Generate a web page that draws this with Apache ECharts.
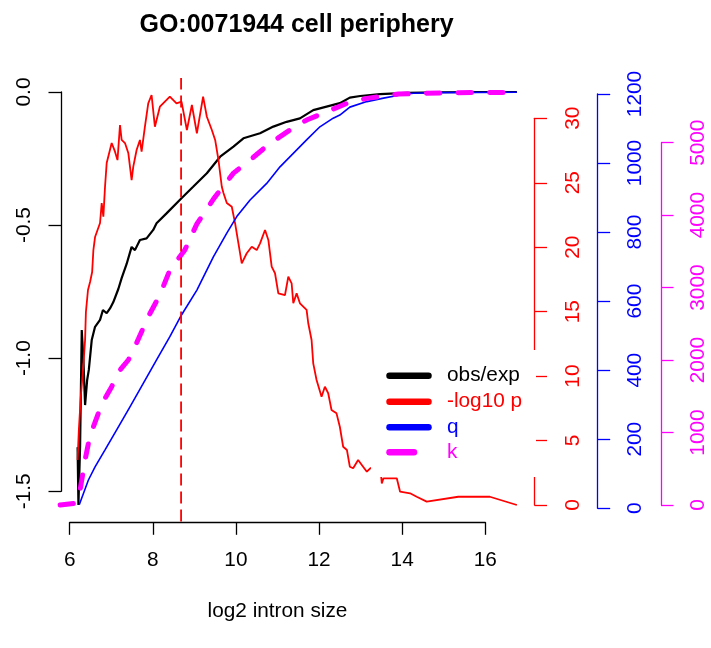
<!DOCTYPE html>
<html><head><meta charset="utf-8">
<script src="https://cdn.jsdelivr.net/npm/echarts@6/dist/echarts.min.js"></script>
<style>html,body{margin:0;padding:0;background:#fff}#c{width:711px;height:648px}</style>
</head><body><div id="c"></div>
<script>
// ---------- data ----------
const TITLE = 'GO:0071944 cell periphery';
const X_NAME = 'log2 intron size';
const X_TICKS = [6, 8, 10, 12, 14, 16];
const OBS_TICKS = [-1.5, -1.0, -0.5, 0.0];
const P_TICKS = [0, 5, 10, 15, 20, 25, 30];
const Q_TICKS = [0, 200, 400, 600, 800, 1000, 1200];
const K_TICKS = [0, 1000, 2000, 3000, 4000, 5000];
const LEGEND_NAMES = ['obs/exp', '-log10 p', 'q', 'k'];
const VLINE_X = 8.68;

const OBS_X = [6.19, 6.21, 6.25, 6.29, 6.33, 6.37, 6.42, 6.46, 6.53, 6.61, 6.73, 6.80, 6.89, 6.97, 7.05, 7.17, 7.25, 7.37, 7.49, 7.57, 7.69, 7.85, 8.01, 8.09, 8.33, 8.69, 8.97, 9.30, 9.62, 9.94, 10.18, 10.58, 10.90, 11.22, 11.54, 11.86, 12.18, 12.50, 12.74, 12.99, 13.47, 14.11, 14.91, 15.87, 16.76];
const OBS_Y = [-1.334, -1.551, -1.332, -0.894, -1.007, -1.176, -1.082, -1.044, -0.932, -0.882, -0.856, -0.819, -0.831, -0.813, -0.789, -0.740, -0.699, -0.646, -0.582, -0.594, -0.556, -0.550, -0.518, -0.493, -0.456, -0.399, -0.356, -0.305, -0.243, -0.205, -0.174, -0.155, -0.130, -0.112, -0.099, -0.068, -0.055, -0.042, -0.021, -0.015, -0.008, -0.003, -0.001, 0, 0];

const P_X = [6.19, 6.22, 6.27, 6.32, 6.37, 6.39, 6.44, 6.49, 6.54, 6.57, 6.61, 6.73, 6.77, 6.81, 6.85, 6.89, 6.95, 7.01, 7.09, 7.15, 7.21, 7.25, 7.33, 7.41, 7.49, 7.53, 7.61, 7.69, 7.73, 7.81, 7.89, 7.97, 8.05, 8.17, 8.29, 8.41, 8.57, 8.69, 8.82, 8.94, 9.06, 9.21, 9.30, 9.42, 9.50, 9.58, 9.66, 9.70, 9.78, 9.90, 9.98, 10.06, 10.14, 10.26, 10.38, 10.50, 10.58, 10.70, 10.78, 10.86, 10.94, 11.02, 11.18, 11.26, 11.34, 11.38, 11.46, 11.54, 11.70, 11.74, 11.82, 11.86, 11.94, 12.06, 12.14, 12.22, 12.30, 12.42, 12.50, 12.58, 12.67, 12.74, 12.82, 12.94, 13.06, 13.15, 13.23, 13.37, 13.48, 13.51, 13.55, 13.87, 13.95, 14.19, 14.35, 14.59, 15.35, 16.11, 16.76];
const P_Y = [3.49, 5.82, 8.53, 10.47, 12.80, 14.97, 16.68, 17.30, 18.08, 19.78, 20.79, 21.88, 23.43, 22.37, 24.69, 26.53, 27.31, 28.08, 27.41, 26.76, 29.48, 28.32, 28.08, 27.31, 25.21, 26.25, 27.54, 28.32, 27.41, 29.35, 31.16, 31.81, 29.35, 30.90, 31.29, 31.68, 31.16, 31.29, 29.09, 31.03, 28.84, 31.68, 30.12, 29.09, 28.32, 26.76, 24.69, 24.20, 23.43, 23.14, 21.85, 20.30, 18.75, 19.53, 20.04, 19.78, 20.30, 21.33, 20.56, 18.49, 17.98, 16.42, 16.29, 17.71, 17.20, 15.65, 16.42, 15.65, 15.13, 14.10, 12.80, 10.99, 9.70, 8.40, 9.18, 8.67, 7.37, 7.11, 6.07, 4.52, 4.27, 2.97, 2.85, 3.49, 2.97, 2.58, 2.85, 2.87, 2.72, 1.68, 2.07, 2.07, 1.03, 0.91, 0.64, 0.26, 0.64, 0.64, 0];

const Q_X = [6.23, 6.33, 6.45, 6.61, 6.85, 7.13, 7.45, 7.77, 8.09, 8.41, 8.69, 9.06, 9.46, 9.78, 10.02, 10.34, 10.74, 11.06, 11.38, 11.70, 12.02, 12.34, 12.50, 12.74, 13.15, 13.55, 13.95, 14.27, 14.91, 16.76];
const Q_Y = [10, 43, 82, 120, 169, 227, 294, 362, 430, 497, 560, 632, 729, 797, 845, 893, 941, 989, 1028, 1067, 1105, 1130, 1139, 1162, 1178, 1188, 1197, 1202, 1204, 1205];

const K_X = [5.77, 6.13, 6.20, 6.25, 6.37, 6.45, 6.57, 6.69, 6.85, 7.01, 7.21, 7.41, 7.57, 7.89, 8.17, 8.41, 8.77, 9.06, 9.47, 9.94, 10.34, 10.82, 11.30, 11.70, 12.18, 12.67, 12.99, 13.15, 13.55, 13.91, 14.43, 15.23, 16.76];
const K_Y = [0, 23, 69, 207, 621, 851, 1080, 1265, 1472, 1633, 1863, 2001, 2185, 2599, 2898, 3243, 3519, 3880, 4232, 4580, 4761, 4991, 5175, 5313, 5427, 5543, 5589, 5612, 5644, 5671, 5681, 5690, 5695];

// ---------- layout ----------
const FONT = '"Liberation Sans", Arial, Helvetica, sans-serif';
const FS = 20.8;
const X0PX = 69.7, XUNIT = 41.56;           // pixel of x=6, pixels per x unit
const xAt = px => 6 + (px - X0PX) / XUNIT;   // pixel -> x value (for grid extents)
const pairs = (xs, ys) => xs.map((x, i) => [x, ys[i]]);

const RED = '#ff0000', BLUE = '#0000ff', MAG = '#ff00ff', BLK = '#000000';

function grid(l, t, r, b) { return { left: l, top: t, width: r - l, height: b - t, containLabel: false, outerBoundsMode: 'none' }; }
const G = [
  grid(61, 92, 535, 491.3),     // 0 obs/exp (left axis)
  grid(69.7, 400, 485.3, 522.3),// 1 x axis
  grid(42, 118.3, 534.5, 505),  // 2 -log10 p
  grid(42, 94, 597.7, 508.3),   // 3 q
  grid(42, 142.7, 661, 505),    // 4 k
  grid(42, 78, 535, 521.5)      // 5 frame (vline)
];
function hiddenX(i) { const g = G[i]; return { type: 'value', gridIndex: i, show: false, min: xAt(g.left), max: xAt(g.left + g.width) }; }
function hiddenY(i, mn, mx) { return { type: 'value', gridIndex: i, show: false, min: mn, max: mx }; }
function visY(i, pos, ticks, color, margin, fmt) {
  return {
    type: 'value', gridIndex: i, position: pos, min: ticks[0], max: ticks[ticks.length - 1],
    interval: ticks[1] - ticks[0],
    axisLine: { show: true, onZero: false, lineStyle: { color: color, width: 1.3 } },
    axisTick: { show: true, inside: false, length: 12.5, lineStyle: { color: color, width: 1.3 }, customValues: ticks },
    axisLabel: { show: true, rotate: 90, margin: margin, color: color, fontSize: FS, fontFamily: FONT,
      showMinLabel: true, showMaxLabel: true, customValues: ticks, formatter: fmt || (v => String(v)) },
    splitLine: { show: false }, splitArea: { show: false }
  };
}

const xAxes = [
  hiddenX(0),
  { type: 'value', gridIndex: 1, position: 'bottom', min: X_TICKS[0], max: X_TICKS[X_TICKS.length - 1], interval: 2,
    axisLine: { show: true, onZero: false, lineStyle: { color: BLK, width: 1.3 } },
    axisTick: { show: true, inside: false, length: 12.5, lineStyle: { color: BLK, width: 1.3 }, customValues: X_TICKS },
    axisLabel: { show: true, margin: 27, color: BLK, fontSize: FS, fontFamily: FONT, showMinLabel: true, showMaxLabel: true, customValues: X_TICKS },
    splitLine: { show: false },
    name: X_NAME, nameLocation: 'middle', nameGap: 78, nameTextStyle: { color: BLK, fontSize: FS, fontFamily: FONT } },
  hiddenX(2), hiddenX(3), hiddenX(4), hiddenX(5)
];
const yAxes = [
  visY(0, 'left', OBS_TICKS, BLK, 26, v => v.toFixed(1)),
  hiddenY(1, 0, 1),
  visY(2, 'right', P_TICKS, RED, 28),
  visY(3, 'right', Q_TICKS, BLUE, 27),
  visY(4, 'right', K_TICKS, MAG, 27),
  hiddenY(5, 0, 1)
];

function lineSeries(name, idx, data, style) {
  return { name: name, type: 'line', xAxisIndex: idx, yAxisIndex: idx, data: data, symbol: 'none', showSymbol: false,
    clip: false, silent: true, animation: false, smooth: false, lineStyle: style };
}

const series = [
  lineSeries(LEGEND_NAMES[0], 0, pairs(OBS_X, OBS_Y), { color: BLK, width: 2.2 }),
  lineSeries(LEGEND_NAMES[1], 2, pairs(P_X, P_Y), { color: RED, width: 1.8 }),
  lineSeries(LEGEND_NAMES[2], 3, pairs(Q_X, Q_Y), { color: BLUE, width: 1.6 }),
  lineSeries(LEGEND_NAMES[3], 4, pairs(K_X, K_Y), { color: MAG, width: 5, type: [13.3, 18.3], cap: 'round' }),
  lineSeries('median', 5, [[VLINE_X, 0], [VLINE_X, 1]], { color: RED, width: 1.8, type: [12, 6] })
];

// legend drawn as graphics (white box like R legend bg)
const LEG_ROWS = [375.7, 401.7, 427.3, 452.3];
const LEG_COLORS = [BLK, RED, BLUE, MAG];
const graphics = [
  { type: 'text', x: 296.5, y: 25, z: 100,
    style: { text: TITLE, fill: BLK, font: 'bold 25px ' + FONT, textAlign: 'center', align: 'center', textVerticalAlign: 'middle', verticalAlign: 'middle' } },
  { type: 'rect', shape: { x: 371, y: 350, width: 165, height: 127 }, style: { fill: '#ffffff' }, z: 100 }
];
LEGEND_NAMES.forEach((n, i) => {
  graphics.push({ type: 'line', z: 101, shape: { x1: 389.5, y1: LEG_ROWS[i], x2: i === 3 ? 414 : 428.5, y2: LEG_ROWS[i] },
    style: { stroke: LEG_COLORS[i], lineWidth: 6.5, lineCap: 'round' } });
  graphics.push({ type: 'text', z: 101, x: 447, y: LEG_ROWS[i],
    style: { text: n, fill: LEG_COLORS[i], font: FS + 'px ' + FONT, textAlign: 'left', align: 'left', textVerticalAlign: 'middle', verticalAlign: 'middle' } });
});

const chart = echarts.init(document.getElementById('c'), null, { renderer: 'canvas' });
chart.setOption({
  animation: false,
  backgroundColor: '#ffffff',
  grid: G,
  xAxis: xAxes,
  yAxis: yAxes,
  series: series,
  graphic: { elements: graphics },
  tooltip: { show: false }
});
</script></body></html>
